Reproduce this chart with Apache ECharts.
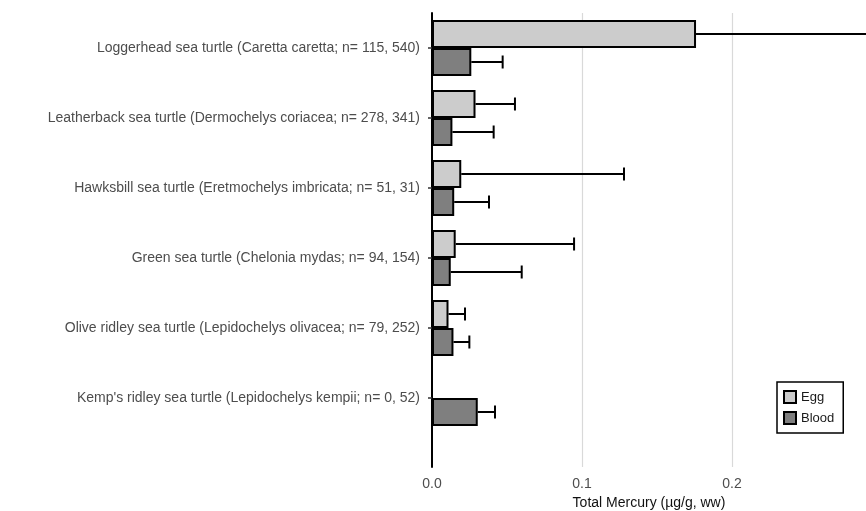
<!DOCTYPE html>
<html><head><meta charset="utf-8">
<script src="https://cdn.jsdelivr.net/npm/echarts@6/dist/echarts.min.js"></script>
<style>html,body{margin:0;padding:0;background:#fff}#c{width:866px;height:511px}</style>
</head><body><div id="c"></div>
<script>
const categories = [
  "Loggerhead sea turtle (Caretta caretta; n= 115, 540)",
  "Leatherback sea turtle (Dermochelys coriacea; n= 278, 341)",
  "Hawksbill sea turtle (Eretmochelys imbricata; n= 51, 31)",
  "Green sea turtle (Chelonia mydas; n= 94, 154)",
  "Olive ridley sea turtle (Lepidochelys olivacea; n= 79, 252)",
  "Kemp's ridley sea turtle (Lepidochelys kempii; n= 0, 52)"
];
const eggMean   = [0.176, 0.029, 0.0195, 0.0158, 0.011, null];
const eggUpper  = [0.34, 0.0553, 0.128, 0.0947, 0.022, null];
const bloodMean = [0.0262, 0.0136, 0.0148, 0.0125, 0.0143, 0.0305];
const bloodUpper= [0.0471, 0.0411, 0.038, 0.0598, 0.0249, 0.042];
const xTicks = [0, 0.1, 0.2];
const xMax = 0.2893;

const font = 'Liberation Sans, Arial, sans-serif';
const EGG = '#cccccc', BLOOD = '#7f7f7f';

function errData(mean, upper, side) {
  const out = [];
  mean.forEach((m, i) => { if (m != null && upper[i] != null) out.push([m, i, upper[i], side]); });
  return out;
}
function renderErr(params, api) {
  const m = api.value(0), idx = api.value(1), up = api.value(2), side = api.value(3);
  const band = api.size([0, 1])[1];
  const c = api.coord([m, idx]);
  const e = api.coord([up, idx]);
  const y = c[1] + side * band * 0.2;
  const cap = 6.5;
  const style = { stroke: '#000', lineWidth: 2 };
  return { type: 'group', children: [
    { type: 'line', shape: { x1: c[0], y1: y, x2: e[0], y2: y }, style },
    { type: 'line', shape: { x1: e[0], y1: y - cap, x2: e[0], y2: y + cap }, style }
  ]};
}

const split = { show: true, showMinLine: false, showMaxLine: false, lineStyle: { color: '#d9d9d9', width: 1.2 } };
const chart = echarts.init(document.getElementById('c'), null, { renderer: 'canvas' });
chart.setOption({
  animation: false,
  backgroundColor: '#fff',
  textStyle: { fontFamily: font },
  grid: [
    { left: 432, right: 0, top: 13, height: 420, outerBoundsMode: 'none', containLabel: false },
    { left: 432, right: 0, top: 433, height: 34, outerBoundsMode: 'none', containLabel: false }
  ],
  xAxis: [
    { type: 'value', gridIndex: 0, min: 0, max: xMax, interval: 0.1,
      axisLine: { show: false }, axisTick: { show: false }, axisLabel: { show: false },
      splitLine: split },
    { type: 'value', gridIndex: 1, min: 0, max: xMax, interval: 0.1,
      axisLine: { show: false }, axisTick: { show: false },
      axisLabel: { color: '#4d4d4d', fontSize: 14, fontFamily: font, margin: 10, showMaxLabel: false,
        formatter: v => xTicks.some(t => Math.abs(t - v) < 1e-9) ? v.toFixed(1) : '' },
      splitLine: split,
      name: 'Total Mercury (µg/g, ww)', nameLocation: 'middle', nameGap: 29,
      nameTextStyle: { color: '#111', fontSize: 14, fontFamily: font } }
  ],
  yAxis: [
    { type: 'category', gridIndex: 0, inverse: true, data: categories,
      axisLine: { show: true, lineStyle: { color: '#000', width: 2 } },
      axisTick: { show: true, alignWithLabel: true, length: 4, lineStyle: { color: '#333', width: 1.5 } },
      axisLabel: { color: '#4d4d4d', fontSize: 14, fontFamily: font, margin: 12 } },
    { type: 'category', gridIndex: 1, data: [''],
      axisLine: { show: true, lineStyle: { color: '#000', width: 2 } },
      axisTick: { show: false }, axisLabel: { show: false } }
  ],
  legend: {
    orient: 'vertical', left: 777, top: 382,
    data: ['Egg', 'Blood'], icon: 'rect',
    borderColor: '#000', borderWidth: 1.5, borderRadius: 0,
    padding: [8, 9, 8, 6], itemGap: 7, itemWidth: 12, itemHeight: 12,
    textStyle: { color: '#1a1a1a', fontSize: 13, fontFamily: font }
  },
  series: [
    { name: 'Egg', type: 'bar', xAxisIndex: 0, yAxisIndex: 0, data: eggMean,
      barGap: '0%', barCategoryGap: '20%',
      itemStyle: { color: EGG, borderColor: '#000', borderWidth: 2 } },
    { name: 'Blood', type: 'bar', xAxisIndex: 0, yAxisIndex: 0, data: bloodMean,
      barGap: '0%', barCategoryGap: '20%',
      itemStyle: { color: BLOOD, borderColor: '#000', borderWidth: 2 } },
    { type: 'custom', xAxisIndex: 0, yAxisIndex: 0, clip: true, z: 3,
      data: errData(eggMean, eggUpper, -1), renderItem: renderErr,
      encode: { x: [0, 2], y: 1 } },
    { type: 'custom', xAxisIndex: 0, yAxisIndex: 0, clip: true, z: 3,
      data: errData(bloodMean, bloodUpper, 1), renderItem: renderErr,
      encode: { x: [0, 2], y: 1 } }
  ]
});
</script></body></html>
